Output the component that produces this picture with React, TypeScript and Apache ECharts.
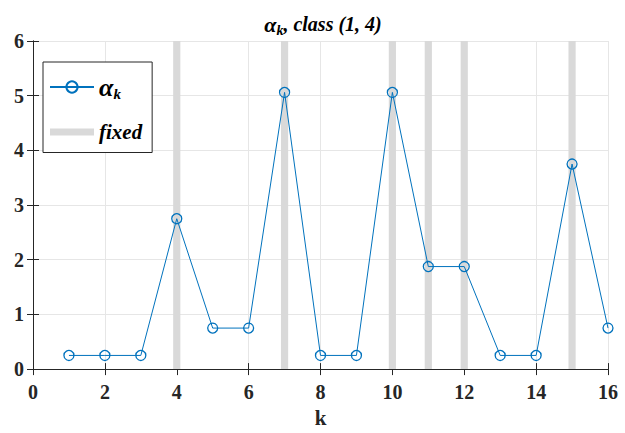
import React, { useEffect, useRef } from "react";
import * as echarts from "echarts";

const ks = [1, 2, 3, 4, 5, 6, 7, 8, 9, 10, 11, 12, 13, 14, 15, 16];
const alphaValues = [0.25, 0.25, 0.25, 2.75, 0.75, 0.75, 5.06, 0.25, 0.25, 5.06, 1.875, 1.875, 0.25, 0.25, 3.75, 0.75];
const fixedKs = [4, 7, 10, 11, 12, 15];
const xTicks = { min: 0, max: 16, interval: 2 };
const yTicks = { min: 0, max: 6, interval: 1 };

const FONT = "Liberation Serif";
const BLUE = "#0072BD";
const AXIS = "#262626";

export default function App() {
  const ref = useRef<HTMLDivElement>(null);
  useEffect(() => {
    if (!ref.current) return;
    const chart = echarts.init(ref.current, null, { renderer: "svg" });
    const tickLabel = { fontFamily: FONT, fontWeight: "bold", fontSize: 20, color: AXIS };
    chart.setOption({
      animation: false,
      backgroundColor: "#ffffff",
      title: {
        text: "{a|α}{s|k}{b|, class (1, 4)}",
        left: 318,
        top: 6,
        textAlign: "center",
        textStyle: {
          rich: {
            a: { fontFamily: FONT, fontWeight: "bold", fontStyle: "italic", fontSize: 22, color: "#000" },
            s: { fontFamily: FONT, fontWeight: "bold", fontStyle: "italic", fontSize: 14, color: "#000", padding: [12, 0, 0, 0] },
            b: { fontFamily: FONT, fontWeight: "bold", fontStyle: "italic", fontSize: 20, color: "#000" },
          },
        },
      },
      legend: {
        orient: "vertical",
        left: 43,
        top: 62,
        padding: [12, 10, 10, 6],
        itemGap: 20,
        itemWidth: 44,
        itemHeight: 14,
        borderColor: AXIS,
        borderWidth: 1,
        backgroundColor: "#fff",
        formatter: (name: string) => (name === "alpha" ? "{a|α}{s|k}" : "{f|fixed}"),
        textStyle: {
          rich: {
            a: { fontFamily: FONT, fontWeight: "bold", fontStyle: "italic", fontSize: 26, color: "#000" },
            s: { fontFamily: FONT, fontWeight: "bold", fontStyle: "italic", fontSize: 15, color: "#000", padding: [14, 0, 0, 0] },
            f: { fontFamily: FONT, fontWeight: "bold", fontStyle: "italic", fontSize: 21, color: "#000" },
          },
        },
        data: [
          { name: "alpha" },
          { name: "fixed", icon: "path://M0,0H44V7H0Z", itemStyle: { color: "#d9d9d9" } },
        ],
      },
      grid: { left: 33, right: 17, top: 41, bottom: 57 },
      xAxis: [
        {
          type: "value",
          min: xTicks.min,
          max: xTicks.max,
          interval: xTicks.interval,
          name: "k",
          nameLocation: "middle",
          nameGap: 37,
          nameTextStyle: { fontFamily: FONT, fontWeight: "bold", fontSize: 21, color: AXIS },
          axisLine: { lineStyle: { color: AXIS, width: 1 } },
          axisTick: { inside: true, length: 6, lineStyle: { color: AXIS } },
          axisLabel: { ...tickLabel, margin: 13 },
          splitLine: { show: true, lineStyle: { color: "#e6e6e6", width: 1 } },
        },
        {
          type: "value",
          position: "top",
          min: xTicks.min,
          max: xTicks.max,
          interval: xTicks.interval,
          axisLine: { show: true, lineStyle: { color: AXIS, width: 1 } },
          axisTick: { show: true, inside: true, length: 6, lineStyle: { color: AXIS } },
          axisLabel: { show: false },
          splitLine: { show: false },
        },
      ],
      yAxis: [
        {
          type: "value",
          min: yTicks.min,
          max: yTicks.max,
          interval: yTicks.interval,
          axisLine: { show: true, lineStyle: { color: AXIS, width: 1 } },
          axisTick: { show: true, inside: true, length: 6, lineStyle: { color: AXIS } },
          axisLabel: { ...tickLabel, margin: 9 },
          splitLine: { show: true, lineStyle: { color: "#e6e6e6", width: 1 } },
        },
        {
          type: "value",
          position: "right",
          min: yTicks.min,
          max: yTicks.max,
          interval: yTicks.interval,
          axisLine: { show: true, lineStyle: { color: AXIS, width: 1 } },
          axisTick: { show: true, inside: true, length: 6, lineStyle: { color: AXIS } },
          axisLabel: { show: false },
          splitLine: { show: false },
        },
      ],
      series: [
        {
          name: "fixed",
          type: "custom",
          z: 1,
          xAxisIndex: 0,
          yAxisIndex: 0,
          itemStyle: { color: "#d9d9d9" },
          data: fixedKs.map((k) => [k, yTicks.max]),
          renderItem: (params: any, api: any) => {
            const x = api.value(0);
            const top = api.coord([x, api.value(1)]);
            const bottom = api.coord([x, yTicks.min]);
            const w = api.size([0.2, 0])[0];
            return {
              type: "rect",
              shape: { x: top[0] - w / 2, y: top[1], width: w, height: bottom[1] - top[1] },
              style: { fill: "#d9d9d9" },
            };
          },
        },
        {
          name: "alpha",
          type: "line",
          z: 3,
          xAxisIndex: 0,
          yAxisIndex: 0,
          data: ks.map((k, i) => [k, alphaValues[i]]),
          symbol: "circle",
          symbolSize: 10,
          lineStyle: { color: BLUE, width: 1 },
          itemStyle: { color: "rgba(0,0,0,0)", borderColor: BLUE, borderWidth: 1.3 },
        },
      ],
    });
    return () => chart.dispose();
  }, []);
  return <div ref={ref} style={{ position: "absolute", left: 0, top: 0, width: 625, height: 433 }} />;
}
